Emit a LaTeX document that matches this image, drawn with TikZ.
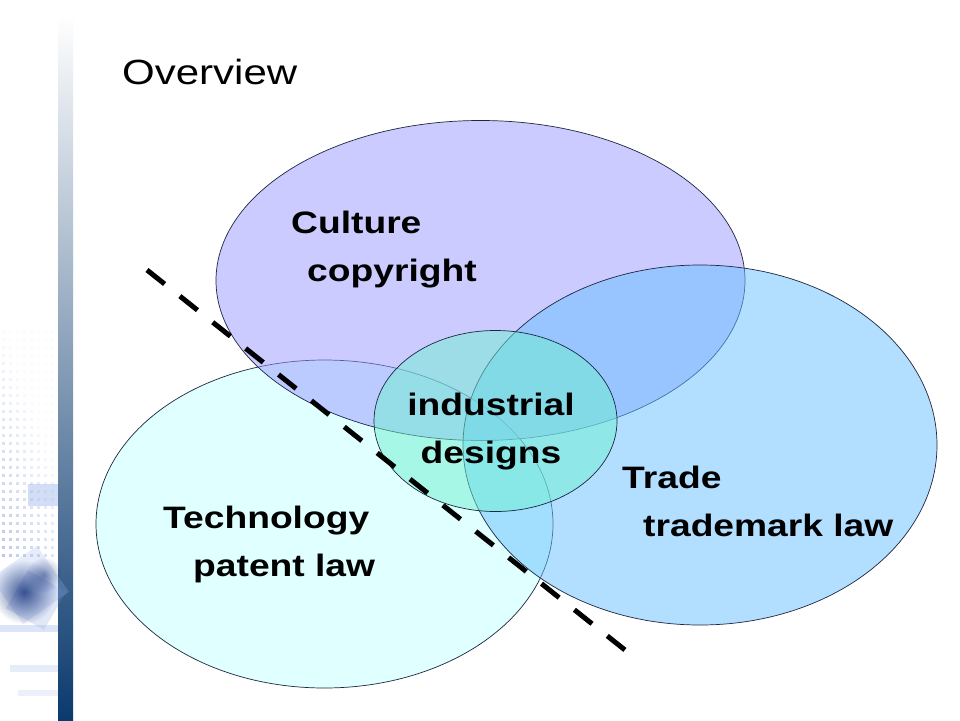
\documentclass[tikz,border=0pt]{standalone}
\usepackage{fontspec}
\setmainfont{Liberation Sans}[FakeStretch=1.2]
\usetikzlibrary{shapes.geometric,fadings}
\definecolor{techfill}{HTML}{E0FFFF}
\definecolor{culturefill}{HTML}{9999FF}
\definecolor{tradefill}{HTML}{66C1FF}
\definecolor{designfill}{HTML}{70F0D0}
\definecolor{edgecol}{HTML}{1E2640}
\definecolor{stripnavy}{HTML}{0B3A6E}
\definecolor{stripmid}{HTML}{8FA5C0}
\definecolor{dotblue}{HTML}{6F8FD8}
\definecolor{blobnavy}{HTML}{12307A}
\definecolor{bandblue}{HTML}{9DB6EA}
\tikzfading[name=blobfade, inner color=transparent!0, outer color=transparent!100]
\begin{document}
\begin{tikzpicture}[x=1pt,y=-1pt,
    blob/.style={ellipse, draw=edgecol, line width=.7pt, inner sep=0pt},
    lawtext/.style={font=\bfseries\fontsize{31}{48}\selectfont, inner sep=0pt, align=left, anchor=north west},
    cutline/.style={line width=5pt, dash pattern=on 22.5pt off 19.5pt}]
    \useasboundingbox (0,0) rectangle (960,720);
    \fill[white] (0,0) rectangle (960,720);

    % left border decoration
    \shade[top color=white, middle color=stripmid, bottom color=stripnavy] (58,15) rectangle (73,720);
    \foreach \r in {0,...,28}{
        \foreach \c in {0,...,7}{
            \pgfmathsetmacro\dotop{max(0.02,0.03+0.016*\r-0.035*\c)}
            \fill[dotblue, opacity=\dotop] (\c*7+2,330+\r*8) rectangle +(3,3);
        }
    }
    \fill[bandblue, opacity=.45] (28,484) rectangle (58,506);
    \fill[bandblue, opacity=.25, rotate around={35:(30,585)}] (2,557) rectangle (58,613);
    \fill[dotblue, opacity=.2, rotate around={-30:(36,600)}] (14,578) rectangle (58,622);
    \fill[blobnavy, opacity=.8, path fading=blobfade] (24,592) circle (32);
    \fill[blobnavy, opacity=.5, path fading=blobfade] (44,575) circle (18);
    \fill[bandblue, opacity=.35] (0,625) rectangle (58,632);
    \fill[bandblue, opacity=.25] (10,665) rectangle (58,672);
    \fill[bandblue, opacity=.2] (18,690) rectangle (58,696);

    \node[font=\fontsize{35}{42}\selectfont, anchor=base west, inner sep=0pt] (overview) at (122,84) {Overview};

    \node[blob, fill=techfill, minimum width=457pt, minimum height=328pt] (tech) at (324.5,524) {};
    \node[blob, fill=culturefill, fill opacity=.5, minimum width=529pt, minimum height=320pt] (culture) at (480.5,280.5) {};
    \node[blob, fill=tradefill, fill opacity=.5, minimum width=474pt, minimum height=360pt] (trade) at (700,445) {};
    \node[blob, fill=designfill, fill opacity=.5, minimum width=243pt, minimum height=181pt] (designs) at (495.5,421) {};

    \node[lawtext] (culturetext) at (291,211) {Culture\\\hspace*{16pt}copyright};
    \node[lawtext] (techtext) at (163,506) {Technology\\\hspace*{30pt}patent law};
    \node[lawtext] (tradetext) at (622,466) {Trade\\\hspace*{21pt}trademark law};
    \node[lawtext, align=center, anchor=north] (designtext) at (491,393) {industrial\\designs};

    \coordinate (cutA) at (147,270);
    \coordinate (cutB) at (625,650);
    \draw[cutline] (cutA) -- (cutB);
\end{tikzpicture}
\end{document}
